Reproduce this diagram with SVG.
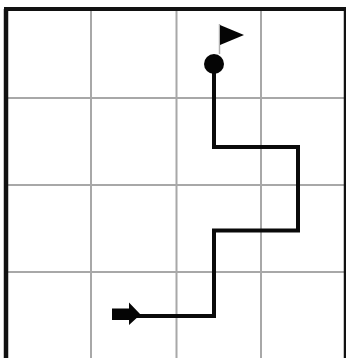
<svg xmlns="http://www.w3.org/2000/svg" width="346" height="358" viewBox="0 0 346 358">
<style>
.grid{stroke:#a8a8a8;stroke-width:2;fill:none}
.frame{stroke:#111;fill:none}
.route{stroke:#0a0a0a;stroke-width:4;fill:none;stroke-linejoin:miter}
.ink{fill:#050505}
</style>
<rect width="346" height="358" fill="#fff"/>
<g id="grid">
<path class="grid" d="M91 9V358M176.500 9V358M261 9V358M6 98H346M6 185H346M6 272H346"/>
<path class="frame" stroke-width="4.500" d="M6 358V9"/>
<path class="frame" stroke-width="4" d="M4 9H346"/>
<path class="frame" stroke-width="2.500" d="M345 9V358"/>
</g>
<g id="connectors">
<path class="route" d="M136 316H214V230.500H298V147H214V66"/>
</g>
<g id="start">
<path class="ink" d="M112 308.500H129V302.500L140.500 314.500L129 325V320H112Z"/>
</g>
<g id="finish">
<circle class="ink" cx="214" cy="64" r="10"/>
<path stroke="#b0b0b0" stroke-width="1.500" d="M219.500 54V24"/>
<path class="ink" d="M220 25L244 35L220 45Z"/>
</g>
</svg>
